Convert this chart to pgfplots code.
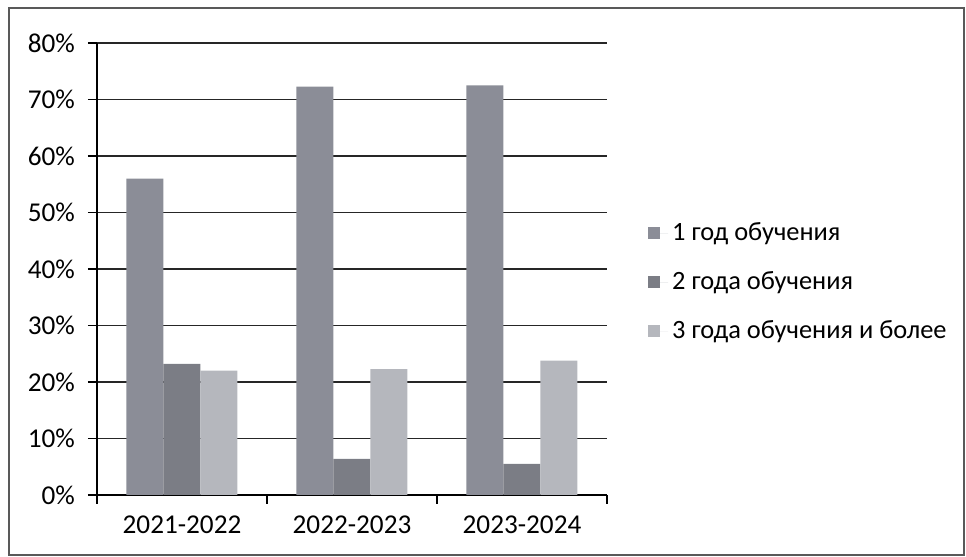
\documentclass[border=0pt]{standalone}
\usepackage{fontspec}
\setmainfont{Carlito}
\usepackage{pgfplots}
\pgfplotsset{compat=1.18}

\definecolor{serA}{HTML}{8B8D97}
\definecolor{serB}{HTML}{7B7D85}
\definecolor{serC}{HTML}{B5B7BD}

\begin{document}
\begin{tikzpicture}[font=\fontsize{13.6}{16}\selectfont]
  \useasboundingbox (-48.5pt,-31pt) rectangle (434.5pt,247.5pt);
  \draw[gray!70!black, line width=0.6pt] (-44pt,-30pt) rectangle (433.5pt,243.5pt);
  \begin{axis}[
    anchor=south west,
    at={(0pt,0pt)},
    scale only axis,
    width=255pt, height=226pt,
    ybar, bar width=18.5pt,
    xmin=-0.5, xmax=2.5,
    ymin=0, ymax=80,
    ytick={0,10,...,80},
    yticklabel={\pgfmathprintnumber{\tick}\%},
    /pgf/number format/assume math mode=true,
    xtick={-0.5,0.5,1.5,2.5},
    xticklabels={},
    extra x ticks={0,1,2},
    extra x tick labels={2021-2022,2022-2023,2023-2024},
    extra x tick style={major tick length=0pt, grid=none},
    axis x line*=bottom, axis y line*=left,
    axis line style={black, line width=0.6pt},
    tick style={black, line width=0.6pt},
    tick align=outside,
    major tick length=4.5pt,
    ymajorgrids,
    grid style={black!85, line width=0.6pt},
    xticklabel style={yshift=-7pt},
    yticklabel style={xshift=-3pt},
    legend style={draw=none, fill=none, at={(1.080,0.471)}, anchor=west,
      cells={anchor=west}, row sep=10pt, inner sep=0pt,
      font=\fontsize{13.2}{15.5}\selectfont},
    legend image code/.code={\fill[#1,draw=none] (0pt,-3pt) rectangle (6pt,3pt);
      \path (0pt,0pt) -- (10pt,0pt);},
  ]
    \addplot[fill=serA, draw=none, bar shift=-18.5pt] coordinates {(0,56) (1,72.3) (2,72.5)};
    \addplot[fill=serB, draw=none, bar shift=0pt] coordinates {(0,23.2) (1,6.4) (2,5.5)};
    \addplot[fill=serC, draw=none, bar shift=18.5pt] coordinates {(0,22) (1,22.3) (2,23.8)};
    \legend{1 год обучения, 2 года обучения, 3 года обучения и более}
  \end{axis}
\end{tikzpicture}
\end{document}
